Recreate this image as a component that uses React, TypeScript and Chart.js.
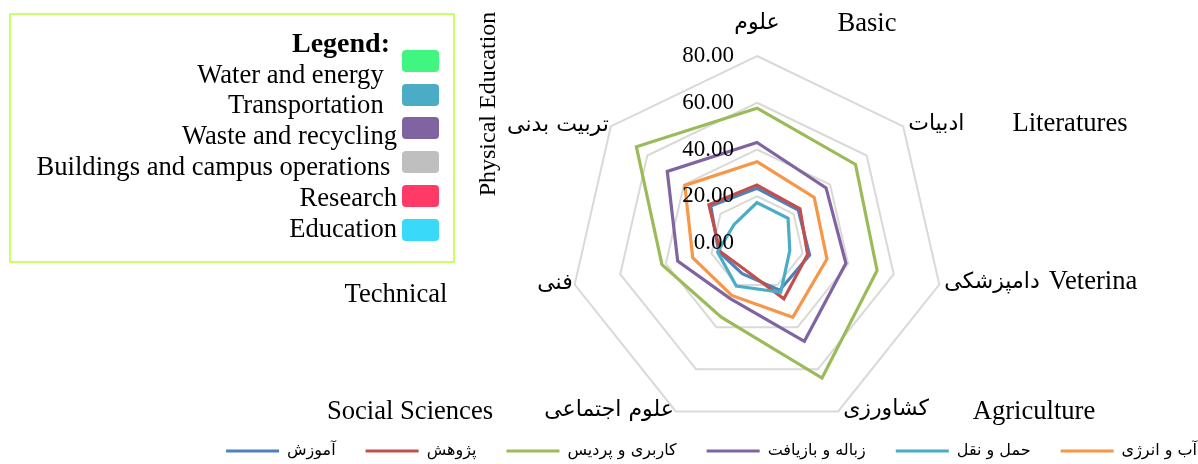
import React, { useEffect, useRef } from 'react';
import { Chart, registerables } from 'chart.js';

Chart.register(...registerables);

// ---------- data ----------
const categoriesFa = ['علوم', 'ادبیات', 'دامپزشکی', 'کشاورزی', 'علوم اجتماعی', 'فنی', 'تربیت بدنی'];
const seriesNames = ['آموزش', 'پژوهش', 'کاربری و پردیس', 'زباله و بازیافت', 'حمل و نقل', 'آب و انرژی'];
const educationValues = [23.4, 22.6, 23.1, 22.4, 14.6, 16.8, 25.3];
const researchValues = [24.8, 23.5, 22.2, 26.5, 12.5, 16.2, 26.3];
const campusValues = [57.7, 53.9, 52.7, 64.1, 35.2, 41.7, 66.0];
const wasteValues = [43.0, 37.8, 39.0, 46.7, 26.4, 34.8, 49.1];
const transportValues = [17.3, 17.0, 14.4, 23.4, 20.4, 17.3, 12.6];
const energyValues = [34.8, 31.3, 30.7, 35.3, 24.9, 28.2, 39.5];
const tickValues = [0, 20, 40, 60, 80];
const englishLabels = ['Basic', 'Literatures', 'Veterina', 'Agriculture', 'Social Sciences', 'Technical', 'Physical Education'];
const boxLegendTitle = 'Legend:';
const boxLegendItems = ['Water and energy\u00a0\u00a0', 'Transportation\u00a0\u00a0', 'Waste and recycling', 'Buildings and campus operations\u00a0', 'Research', 'Education'];

// ---------- styles / layout ----------
const seriesList = [educationValues, researchValues, campusValues, wasteValues, transportValues, energyValues];
const seriesColors = ['#4F81BD', '#C0504D', '#9BBB59', '#8064A2', '#4BACC6', '#F79646'];
const boxLegendColors = ['#40F580', '#4BACC6', '#8064A2', '#BFBFBF', '#FF3A66', '#38D9F9'];
const RADAR_CX = 757;
const RADAR_CY = 243;
const RADAR_R = 187;
const englishPlacement = [
  { x: 867, y: 22, rot: 0 },
  { x: 1070, y: 122, rot: 0 },
  { x: 1093, y: 280, rot: 0 },
  { x: 1034, y: 410, rot: 0 },
  { x: 410, y: 410, rot: 0 },
  { x: 396, y: 293, rot: 0 },
  { x: 487, y: 104, rot: -90 },
];

const serif = '"Liberation Serif", "Times New Roman", serif';
const farsiFont = '"DejaVu Sans", sans-serif';

const tickLabelPlugin = {
  id: 'tickLabelPlugin',
  afterDatasetsDraw(chart: any) {
    const s = chart.scales.r;
    const ctx = chart.ctx;
    ctx.save();
    ctx.font = `23px ${serif}`;
    ctx.fillStyle = '#000';
    ctx.textAlign = 'right';
    ctx.textBaseline = 'middle';
    tickValues.forEach((v) => {
      const d = s.getDistanceFromCenterForValue(v);
      ctx.fillText(v.toFixed(2), s.xCenter - 23, s.yCenter - d);
    });
    ctx.restore();
  },
};

const pointLabelPlugin = {
  id: 'pointLabelPlugin',
  afterDraw(chart: any) {
    const s = chart.scales.r;
    const ctx = chart.ctx;
    ctx.save();
    ctx.font = `22px ${farsiFont}`;
    ctx.fillStyle = '#000';
    ctx.textBaseline = 'middle';
    categoriesFa.forEach((label, i) => {
      const p = s.getPointPosition(i, s.drawingArea);
      if (i === 0) {
        ctx.textAlign = 'center';
        ctx.fillText(label, p.x, p.y - 33);
      } else if (p.x > s.xCenter + 1) {
        ctx.textAlign = 'left';
        ctx.fillText(label, p.x + 5, p.y - 2);
      } else {
        ctx.textAlign = 'right';
        ctx.fillText(label, p.x - 2, p.y - 1);
      }
    });
    ctx.restore();
  },
};

export default function App() {
  const canvasRef = useRef<HTMLCanvasElement>(null);

  useEffect(() => {
    const canvas = canvasRef.current;
    if (!canvas) return;
    const chart = new Chart(canvas, {
      type: 'radar',
      data: {
        labels: categoriesFa,
        datasets: seriesList.map((values, i) => ({
          label: seriesNames[i],
          data: values,
          borderColor: seriesColors[i],
          backgroundColor: seriesColors[i],
          borderWidth: 3.2,
          pointRadius: 0,
          pointHoverRadius: 0,
          fill: false,
          order: seriesList.length - i,
        })),
      },
      options: {
        responsive: true,
        maintainAspectRatio: false,
        animation: false,
        events: [],
        layout: { padding: { right: -29 } },
        plugins: {
          tooltip: { enabled: false },
          legend: {
            position: 'bottom',
            align: 'end',
            reverse: true,
            maxHeight: 51,
            labels: {
              boxWidth: 53,
              boxHeight: 3,
              padding: 30,
              color: '#000',
              font: { family: farsiFont, size: 16 },
              generateLabels: (c: any) =>
                (Chart.defaults.plugins.legend.labels as any)
                  .generateLabels(c)
                  .map((l: any) => ({ ...l, lineWidth: 0, fillStyle: l.strokeStyle })),
            },
          },
        },
        scales: {
          r: {
            min: 0,
            max: 80,
            ticks: { display: false, stepSize: 20 },
            pointLabels: { display: false },
            angleLines: { display: false },
            grid: { color: '#D9D9D9', lineWidth: 2 },
            afterFit: (s: any) => {
              s.xCenter = RADAR_CX;
              s.yCenter = RADAR_CY;
              s.drawingArea = RADAR_R;
            },
          } as any,
        },
      },
      plugins: [tickLabelPlugin, pointLabelPlugin],
    } as any);
    return () => chart.destroy();
  }, []);

  return (
    <div
      style={{
        position: 'fixed',
        left: 0,
        top: 0,
        width: 1198,
        height: 464,
        background: '#fff',
        fontFamily: serif,
        color: '#000',
        overflow: 'hidden',
      }}
    >
      <div style={{ position: 'absolute', left: 0, top: 0, width: 1198, height: 464 }}>
        <canvas ref={canvasRef} />
      </div>

      {englishLabels.map((t, i) => {
        const p = englishPlacement[i];
        return (
          <div
            key={t}
            style={{
              position: 'absolute',
              left: p.x,
              top: p.y,
              transform: `translate(-50%, -50%) rotate(${p.rot}deg)`,
              whiteSpace: 'nowrap',
              fontSize: p.rot ? 24 : 26.6,
              lineHeight: 1,
            }}
          >
            {t}
          </div>
        );
      })}

      <div
        style={{
          position: 'absolute',
          left: 9,
          top: 13,
          width: 446,
          height: 250,
          boxSizing: 'border-box',
          border: '2px solid #CCFF66',
        }}
      />
      <div
        style={{
          position: 'absolute',
          left: 0,
          top: 27,
          width: 397,
          textAlign: 'right',
          fontWeight: 'bold',
          fontSize: 28,
          lineHeight: '31px',
          whiteSpace: 'nowrap',
        }}
      >
        {boxLegendTitle + '\u00a0'}
      </div>
      {boxLegendItems.map((t, i) => (
        <div
          key={t}
          style={{
            position: 'absolute',
            left: 0,
            top: 58.6 + i * 30.8,
            width: 397,
            textAlign: 'right',
            fontSize: 26.6,
            lineHeight: '30.8px',
            whiteSpace: 'nowrap',
          }}
        >
          {t}
        </div>
      ))}
      {boxLegendColors.map((c, i) => (
        <div
          key={c + i}
          style={{
            position: 'absolute',
            left: 402,
            top: 50 + i * 33.7,
            width: 37,
            height: 22,
            borderRadius: 4,
            background: c,
          }}
        />
      ))}
    </div>
  );
}
